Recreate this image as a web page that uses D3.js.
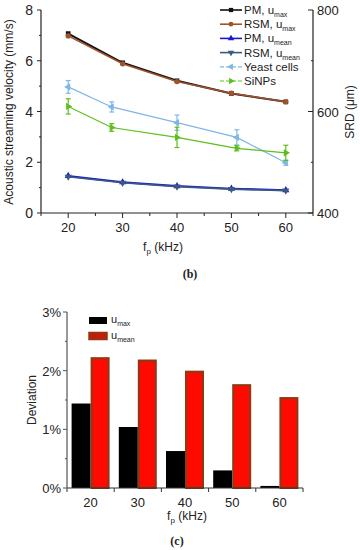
<!DOCTYPE html>
<html>
<head>
<meta charset="utf-8">
<script src="https://cdnjs.cloudflare.com/ajax/libs/d3/7.8.5/d3.min.js"></script>
<style>
  body { margin: 0; background: #fff; }
  text { font-family: "Liberation Sans", Arial, sans-serif; fill: #222; }
</style>
</head>
<body>
<div id="chart"></div>
<script>
// ---- data: panel (b) ----
var freqs = [20, 30, 40, 50, 60];
var pmUmax = [7.07, 5.92, 5.21, 4.71, 4.38];
var rsmUmax = [6.98, 5.88, 5.18, 4.72, 4.38];
var pmUmean = [1.46, 1.21, 1.06, 0.96, 0.90];
var rsmUmean = [1.43, 1.19, 1.04, 0.94, 0.88];
var expFreqs = [20, 28, 40, 51, 60];
var yeast = [4.97, 4.18, 3.56, 2.98, 1.98];
var yeastErr = [0.25, 0.2, 0.3, 0.3, 0.1];
var sinps = [4.2, 3.37, 2.98, 2.55, 2.37];
var sinpsErr = [0.3, 0.15, 0.4, 0.1, 0.3];
var leftTicks = [0, 2, 4, 6, 8];
var rightTicks = [400, 600, 800];

// ---- data: panel (c) ----
var devCats = ["20", "30", "40", "50", "60"];
var devMax = [1.44, 1.04, 0.63, 0.30, 0.035];
var devMean = [2.23, 2.19, 2.00, 1.77, 1.55];
var devTicks = [0, 1, 2, 3];

var W = 360, H = 550;
var svg = d3.select("#chart").append("svg").attr("width", W).attr("height", H);

///////// panel (b) /////////
var x = d3.scaleLinear().domain([15, 65]).range([41, 313]);
var y = d3.scaleLinear().domain([0, 8]).range([213, 10]);
var yR = d3.scaleLinear().domain([400, 800]).range([213, 10]);

var gb = svg.append("g");

// axes lines
gb.append("line").attr("x1", x(15)).attr("x2", x(65)).attr("y1", y(0)).attr("y2", y(0)).attr("stroke", "#222").attr("stroke-width", 1.2);
gb.append("line").attr("x1", x(15)).attr("x2", x(15)).attr("y1", y(0)).attr("y2", y(8)).attr("stroke", "#222").attr("stroke-width", 1.2);
gb.append("line").attr("x1", x(65)).attr("x2", x(65)).attr("y1", y(0)).attr("y2", y(8)).attr("stroke", "#222").attr("stroke-width", 1.2);

// bottom ticks
d3.range(15, 66, 5).forEach(function(v) {
  var major = v % 10 === 0;
  gb.append("line").attr("x1", x(v)).attr("x2", x(v)).attr("y1", y(0)).attr("y2", y(0) + (major ? 5 : 3)).attr("stroke", "#222");
});
freqs.forEach(function(v) {
  gb.append("text").attr("x", x(v)).attr("y", y(0) + 19).attr("text-anchor", "middle").attr("font-size", 13).text(v);
});

// left ticks
d3.range(0, 9, 1).forEach(function(v) {
  var major = v % 2 === 0;
  gb.append("line").attr("x1", x(15)).attr("x2", x(15) - (major ? 4 : 2)).attr("y1", y(v)).attr("y2", y(v)).attr("stroke", "#222");
});
leftTicks.forEach(function(v) {
  gb.append("text").attr("x", x(15) - 8).attr("y", y(v) + 5).attr("text-anchor", "end").attr("font-size", 14).text(v);
});

// right ticks
d3.range(400, 801, 100).forEach(function(v) {
  var major = v % 200 === 0;
  gb.append("line").attr("x1", x(65)).attr("x2", x(65) - (major ? 5 : 2)).attr("y1", yR(v)).attr("y2", yR(v)).attr("stroke", "#222");
});
rightTicks.forEach(function(v) {
  gb.append("text").attr("x", x(65) + 4).attr("y", yR(v) + 5).attr("font-size", 13).text(v);
});

// axis titles
gb.append("text").attr("transform", "translate(13,112) rotate(-90)").attr("text-anchor", "middle").attr("font-size", 12)
  .text("Acoustic streaming velocity (mm/s)");
gb.append("text").attr("transform", "translate(354,112) rotate(-90)").attr("text-anchor", "middle").attr("font-size", 12)
  .text("SRD (\u03bcm)");
var xt = gb.append("text").attr("x", 163).attr("y", 251).attr("text-anchor", "middle").attr("font-size", 12);
xt.append("tspan").text("f");
xt.append("tspan").attr("font-size", 8).attr("dy", 3).text("p");
xt.append("tspan").attr("dy", -3).text(" (kHz)");
gb.append("text").attr("x", 190).attr("y", 278).attr("text-anchor", "middle").attr("font-size", 12)
  .style("font-family", "'Liberation Serif', serif").attr("font-weight", "bold").text("(b)");

var series = [
  { name: "PM, ", sub: "max", xs: freqs, vals: pmUmax, color: "#111111", sym: d3.symbolSquare, rot: 0, w: 2 },
  { name: "RSM, ", sub: "max", xs: freqs, vals: rsmUmax, color: "#a0522d", sym: d3.symbolCircle, rot: 0, w: 1.6 },
  { name: "PM, ", sub: "mean", xs: freqs, vals: pmUmean, color: "#1a1acc", sym: d3.symbolTriangle, rot: 0, w: 2 },
  { name: "RSM, ", sub: "mean", xs: freqs, vals: rsmUmean, color: "#3c5a80", sym: d3.symbolTriangle, rot: 180, w: 1.6 },
  { name: "Yeast cells", sub: null, xs: expFreqs, vals: yeast, err: yeastErr, color: "#7fb6e6", sym: d3.symbolTriangle, rot: -90, w: 1.2 },
  { name: "SiNPs", sub: null, xs: expFreqs, vals: sinps, err: sinpsErr, color: "#5cbf1c", sym: d3.symbolTriangle, rot: 90, w: 1.2 }
];

var line = d3.line().x(function(d) { return x(d[0]); }).y(function(d) { return y(d[1]); });

series.forEach(function(s) {
  var pts = s.xs.map(function(v, i) { return [v, s.vals[i]]; });
  gb.append("path").datum(pts).attr("d", line).attr("fill", "none").attr("stroke", s.color).attr("stroke-width", s.w);
  if (s.err) {
    pts.forEach(function(p, i) {
      var e = s.err[i];
      gb.append("line").attr("x1", x(p[0])).attr("x2", x(p[0])).attr("y1", y(p[1] - e)).attr("y2", y(p[1] + e)).attr("stroke", s.color).attr("stroke-width", 1.2);
      [p[1] - e, p[1] + e].forEach(function(v) {
        gb.append("line").attr("x1", x(p[0]) - 2.5).attr("x2", x(p[0]) + 2.5).attr("y1", y(v)).attr("y2", y(v)).attr("stroke", s.color).attr("stroke-width", 1.2);
      });
    });
  }
  pts.forEach(function(p) {
    gb.append("path").attr("d", d3.symbol().type(s.sym).size(22)())
      .attr("transform", "translate(" + x(p[0]) + "," + y(p[1]) + ") rotate(" + s.rot + ")")
      .attr("fill", s.color);
  });
});

// legend (b)
series.forEach(function(s, i) {
  var ly = 10 + i * 14.2;
  var lg = gb.append("g");
  lg.append("line").attr("x1", 220).attr("x2", 242).attr("y1", ly).attr("y2", ly).attr("stroke", s.color).attr("stroke-width", s.err ? 1.2 : 1.6)
    .attr("stroke-dasharray", s.err ? "4,2" : null);
  lg.append("path").attr("d", d3.symbol().type(s.sym).size(18)())
    .attr("transform", "translate(231," + ly + ") rotate(" + s.rot + ")").attr("fill", s.color);
  var t = lg.append("text").attr("x", 244).attr("y", ly + 4).attr("font-size", 11.5);
  t.append("tspan").text(s.name + (s.sub ? "u" : ""));
  if (s.sub) t.append("tspan").attr("font-size", 7).attr("dy", 3).text(s.sub);
});

///////// panel (c) /////////
var xb = d3.scaleBand().domain(devCats).range([67, 303]).paddingInner(0).paddingOuter(0);
var yb = d3.scaleLinear().domain([0, 3]).range([488, 312]);
var gc = svg.append("g");

var barW = 19;
devCats.forEach(function(c, i) {
  var cx = xb(c) + xb.bandwidth() / 2;
  gc.append("rect").attr("x", cx - barW).attr("y", yb(devMax[i])).attr("width", barW).attr("height", yb(0) - yb(devMax[i])).attr("fill", "#000");
  gc.append("rect").attr("x", cx + 1).attr("y", yb(devMean[i]) + 1).attr("width", barW - 2).attr("height", yb(0) - yb(devMean[i]) - 1)
    .attr("fill", "#ff0a00").attr("stroke", "#8b3a14").attr("stroke-width", 2);
});

gc.append("line").attr("x1", 67).attr("x2", 303).attr("y1", yb(0)).attr("y2", yb(0)).attr("stroke", "#333").attr("stroke-width", 1.2);
gc.append("line").attr("x1", 67).attr("x2", 67).attr("y1", yb(0)).attr("y2", yb(3)).attr("stroke", "#555").attr("stroke-width", 1.2);

// x ticks at band edges
d3.range(0, 6).forEach(function(i) {
  var xx = 67 + i * xb.bandwidth();
  gc.append("line").attr("x1", xx).attr("x2", xx).attr("y1", yb(0)).attr("y2", yb(0) + 4).attr("stroke", "#333");
});
devCats.forEach(function(c) {
  gc.append("text").attr("x", xb(c) + xb.bandwidth() / 2).attr("y", yb(0) + 19).attr("text-anchor", "middle").attr("font-size", 13).text(c);
});

// y ticks
d3.range(0, 3.01, 0.5).forEach(function(v) {
  var major = v % 1 === 0;
  gc.append("line").attr("x1", 67).attr("x2", 67 - (major ? 4 : 2)).attr("y1", yb(v)).attr("y2", yb(v)).attr("stroke", "#555");
});
devTicks.forEach(function(v) {
  gc.append("text").attr("x", 61).attr("y", yb(v) + 5).attr("text-anchor", "end").attr("font-size", 13).text(v + "%");
});

gc.append("text").attr("transform", "translate(36,400) rotate(-90)").attr("text-anchor", "middle").attr("font-size", 12).text("Deviation");
var xt2 = gc.append("text").attr("x", 187).attr("y", 520).attr("text-anchor", "middle").attr("font-size", 12);
xt2.append("tspan").text("f");
xt2.append("tspan").attr("font-size", 8).attr("dy", 3).text("p");
xt2.append("tspan").attr("dy", -3).text(" (kHz)");
gc.append("text").attr("x", 177).attr("y", 545).attr("text-anchor", "middle").attr("font-size", 12)
  .style("font-family", "'Liberation Serif', serif").attr("font-weight", "bold").text("(c)");

// legend (c)
var legC = [{ sub: "max", fill: "#000", stroke: "none" }, { sub: "mean", fill: "#c41e0a", stroke: "#8b3a14" }];
legC.forEach(function(l, i) {
  var ly = 317 + i * 15.5;
  gc.append("rect").attr("x", 89).attr("y", ly).attr("width", 18).attr("height", 7).attr("fill", l.fill).attr("stroke", l.stroke).attr("stroke-width", 1.5);
  var t = gc.append("text").attr("x", 111).attr("y", ly + 6).attr("font-size", 11);
  t.append("tspan").text("u");
  t.append("tspan").attr("font-size", 7).attr("dy", 3).text(l.sub);
});
</script>
</body>
</html>
